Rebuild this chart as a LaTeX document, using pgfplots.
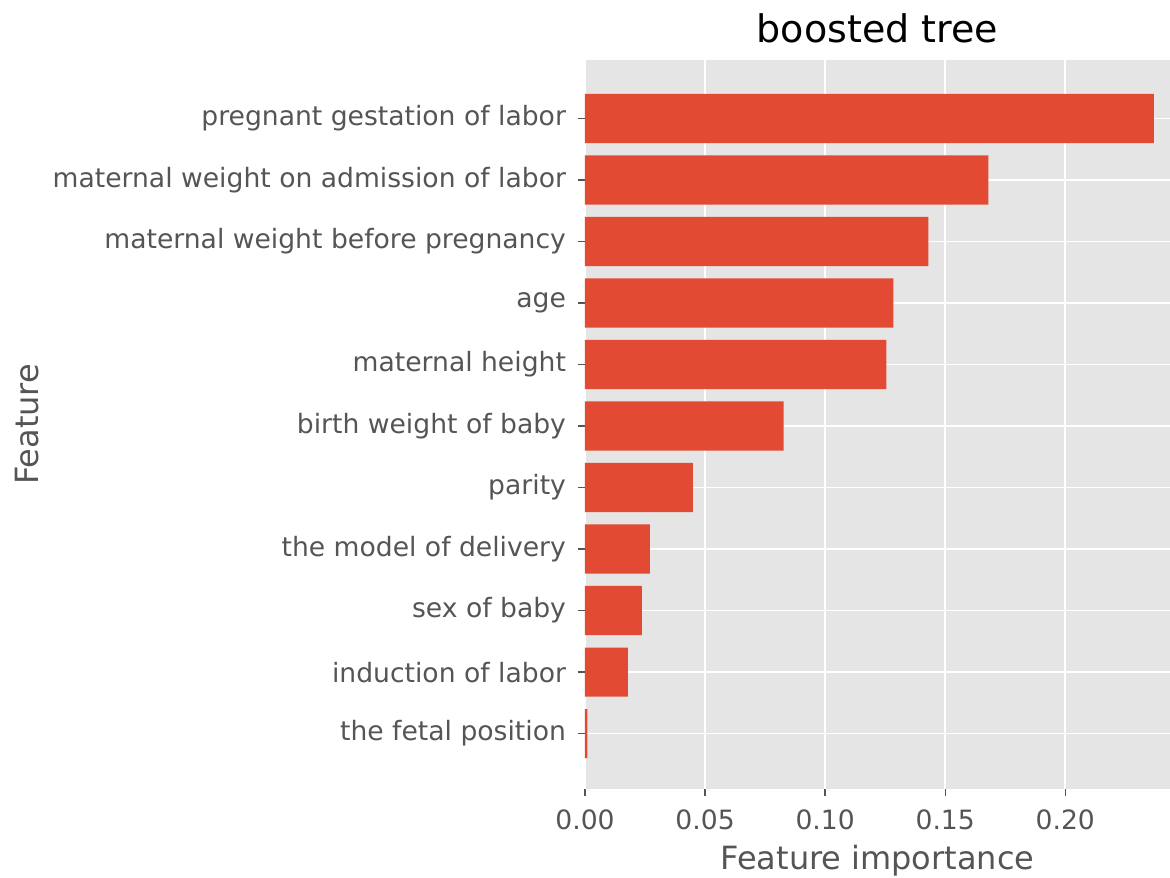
\documentclass[border=0pt]{standalone}
\usepackage{fontspec}
\setmainfont{DejaVu Sans}
\usepackage{pgfplots}
\pgfplotsset{compat=1.18}
\definecolor{barred}{HTML}{E24A33}
\definecolor{bggray}{HTML}{E5E5E5}
\definecolor{txtgray}{HTML}{555555}
\begin{document}
\begin{tikzpicture}
\begin{axis}[
  at={(0,0)}, anchor=south west,
  scale only axis,
  width=292.5pt, height=364.5pt,
  xbar, bar width=0.8,
  xmin=0, xmax=0.2436,
  ymin=-0.9, ymax=10.95,
  axis background/.style={fill=bggray},
  axis line style={draw=none},
  grid=major,
  major grid style={white, line width=0.8pt},
  xtick={0,0.05,0.1,0.15,0.2},
  ytick={0,...,10},
  yticklabels={the fetal position, induction of labor, sex of baby, the model of delivery, parity, birth weight of baby, maternal height, age, maternal weight before pregnancy, maternal weight on admission of labor, pregnant gestation of labor},
  /pgf/number format/assume math mode=true,
  xticklabel style={/pgf/number format/fixed, /pgf/number format/fixed zerofill, /pgf/number format/precision=2, yshift=-3.5pt},
  yticklabel style={xshift=-2.5pt},
  scaled x ticks=false,
  tick label style={font=\fontsize{13.3}{16}\selectfont, text=txtgray},
  tick align=outside,
  tick pos=left,
  major tick length=3.5pt,
  tick style={draw=txtgray, line width=0.7pt},
  xlabel={Feature importance},
  ylabel={Feature},
  xlabel style={font=\fontsize{16}{19}\selectfont, text=txtgray, yshift=-0.5pt},
  ylabel style={font=\fontsize{16}{19}\selectfont, text=txtgray},
  title={boosted tree},
  title style={font=\fontsize{19}{23}\selectfont, text=black, yshift=-1pt},
]
\addplot[fill=barred, draw=none] coordinates {
(0.001,0) (0.0179,1) (0.0237,2) (0.027,3) (0.0449,4) (0.0827,5) (0.1255,6) (0.1284,7) (0.143,8) (0.168,9) (0.2369,10)
};
\end{axis}
\pgfresetboundingbox
\path[use as bounding box] (-292.5pt,-44pt) rectangle (292.5pt,394.5pt);
\end{tikzpicture}
\end{document}
